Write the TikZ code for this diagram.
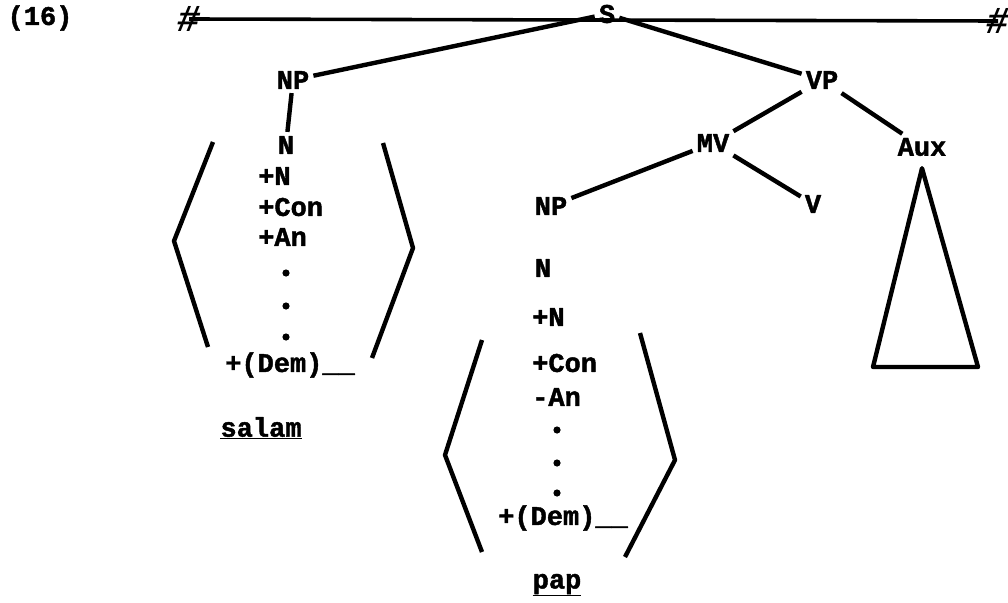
\documentclass[tikz,border=0pt]{standalone}
\usepackage{fontspec}
\setmonofont{Liberation Mono}[BoldFeatures={FakeBold=1.6}]

\begin{document}
\begin{tikzpicture}[x=1pt, y=-1pt, line width=4.4pt, line join=round,
  every node/.style = {font=\ttfamily\bfseries\fontsize{27}{30}\selectfont,
    inner sep=2pt},
  feat/.style = {anchor=west},
  bound/.style = {inner sep=0pt, font=\ttfamily\bfseries\itshape\fontsize{38}{38}\selectfont},
  dot/.style = {radius=3.6pt}]
  \useasboundingbox (0,0) rectangle (1008,602);

  % example number and boundary symbols
  \node (num) at (40,18) {(16)};
  \node[bound] (hashL) at (189,19) {\#};
  \node[bound] (hashR) at (998,21) {\#};
  \draw[line width=3.6pt] (hashL.center) -- (hashR.center);

  % upper tree
  \node (S) at (607,14) {S};
  \node (NPa) at (293,80) {NP};
  \node (VP) at (822,80) {VP};
  \node (MV) at (713,143) {MV};
  \node (Aux) at (922,147) {Aux};
  \node (NPb) at (551,206) {NP};
  \node (V) at (813,204) {V};

  \draw (S) -- (NPa);
  \draw (S) -- (VP);
  \draw (VP) -- (MV);
  \draw (VP) -- (Aux);
  \draw (MV) -- (NPb);
  \draw (MV) -- (V);

  % subject noun and its features
  \node (Na) at (286,145) {N};
  \draw (NPa) -- (Na);
  \node[feat] at (254,176) {+N};
  \node[feat] at (254,207) {+Con};
  \node[feat] at (254,237) {+An};
  \foreach \y in {273,306,337}
    \fill (286,\y) circle[dot];
  \node[feat] (Dema) at (221,365) {+(Dem)\_\_};
  \node (salam) at (261,428) {\underline{salam}};
  \draw (213,142) -- (174,241) -- (208,347);
  \draw (383,143) -- (413,248) -- (372,358);

  % object noun and its features
  \node (Nb) at (543,268) {N};
  \node[feat] at (528,317) {+N};
  \node[feat] at (528,363) {+Con};
  \node[feat] at (528,397) {-An};
  \foreach \y in {430,463,493}
    \fill (557,\y) circle[dot];
  \node[feat] (Demb) at (494,518) {+(Dem)\_\_};
  \node (pap) at (557,585) {\underline{pap}};
  \draw (482,340) -- (445,455) -- (482,552);
  \draw (640,333) -- (675,460) -- (625,557);

  % auxiliary
  \draw ([yshift=-8pt]Aux.south) -- (873,367) -- (978,367) -- cycle;
\end{tikzpicture}
\end{document}
